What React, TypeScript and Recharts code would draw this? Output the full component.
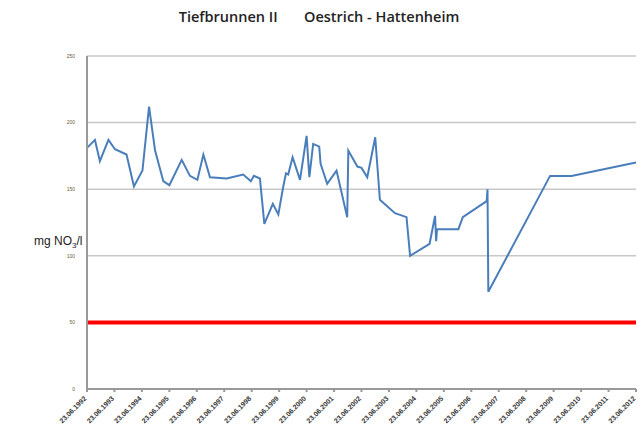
import React from 'react';
import { LineChart, Line, XAxis, YAxis, CartesianGrid, ReferenceLine } from 'recharts';

// Measurement dates as fractional years (1992.0 = 23.06.1992)
const dates = [
  1992.0, 1992.29, 1992.47, 1992.78, 1993.02, 1993.44, 1993.71, 1994.02, 1994.26, 1994.48,
  1994.78, 1995.0, 1995.45, 1995.75, 1996.02, 1996.24, 1996.48, 1997.09, 1997.69, 1997.97,
  1998.08, 1998.3, 1998.46, 1998.77, 1998.97, 1999.15, 1999.25, 1999.33, 1999.49, 1999.76,
  2000.0, 2000.1, 2000.24, 2000.46, 2000.51, 2000.75, 2001.09, 2001.48, 2001.52, 2001.85,
  2002.0, 2002.21, 2002.5, 2002.67, 2003.22, 2003.64, 2003.77, 2004.48, 2004.68, 2004.72,
  2004.75, 2005.53, 2005.69, 2006.56, 2006.59, 2006.62, 2008.87, 2009.65, 2012.0,
];

// Nitrate values in mg NO3/l
const nitrate = [
  181, 187, 171, 187, 180, 176, 152, 164, 212, 179,
  156, 153, 172, 160, 157, 176, 159, 158, 161, 156,
  160, 158, 124, 139, 131, 152, 162, 161, 174, 157,
  190, 159, 184, 182, 169, 154, 164, 129, 179, 167,
  166, 159, 189, 142, 132, 129, 100, 109, 130, 111,
  120, 120, 129, 141, 150, 73, 160, 160, 170,
];

const limitValue = 50;

const years = Array.from({ length: 21 }, (_, i) => 1992 + i);
const yTicks = [0, 50, 100, 150, 200, 250];

const data = dates.map((d, i) => ({ date: d, value: nitrate[i] }));

const XTick = ({ x, y, payload }: any) => (
  <text
    x={x}
    y={y + 5}
    transform={`rotate(-45 ${x} ${y + 5})`}
    textAnchor="end"
    fontSize={7}
    fontWeight={700}
    fill="#333"
    fontFamily="Liberation Sans, Arial, sans-serif"
  >
    {`23.06.${payload.value}`}
  </text>
);

const YLabel = () => (
  <text x={34} y={245} fontSize={12} fill="#222" fontFamily="Liberation Sans, Arial, sans-serif">
    mg NO
    <tspan fontSize={8} dy={3}>3</tspan>
    <tspan dy={-3}>/l</tspan>
  </text>
);

export default function App() {
  return (
    <div style={{ position: 'absolute', left: 0, top: 0, width: 638, height: 435, background: '#fff' }}>
      <div
        style={{
          position: 'absolute',
          top: 7,
          left: 0,
          width: 638,
          textAlign: 'center',
          fontFamily: '"Open Sans", Arial, sans-serif',
          fontSize: 14.5,
          fontWeight: 600,
          color: '#222',
          whiteSpace: 'pre',
        }}
      >
        {'Tiefbrunnen II       Oestrich - Hattenheim'}
      </div>
      <LineChart width={638} height={435} data={data} margin={{ top: 56, right: 2, bottom: 0, left: 0 }}>
        <CartesianGrid vertical={false} stroke="#c8c8c8" strokeWidth={1.5} />
        <XAxis
          dataKey="date"
          type="number"
          domain={[1992, 2012]}
          ticks={years}
          interval={0}
          height={46}
          stroke="#999"
          strokeWidth={2}
          tickSize={3}
          tick={<XTick />}
        />
        <YAxis
          type="number"
          domain={[0, 250]}
          ticks={yTicks}
          width={87}
          stroke="#999"
          strokeWidth={2}
          tickLine={false}
          tick={{ fontSize: 5, fill: '#6b5a3a', fontFamily: 'Liberation Sans, Arial, sans-serif' }}
          tickMargin={6}
          label={<YLabel />}
        />
        <ReferenceLine y={limitValue} stroke="#ff0000" strokeWidth={4} />
        <Line
          dataKey="value"
          type="linear"
          stroke="#4a7ebb"
          strokeWidth={2}
          dot={false}
          isAnimationActive={false}
        />
      </LineChart>
    </div>
  );
}
